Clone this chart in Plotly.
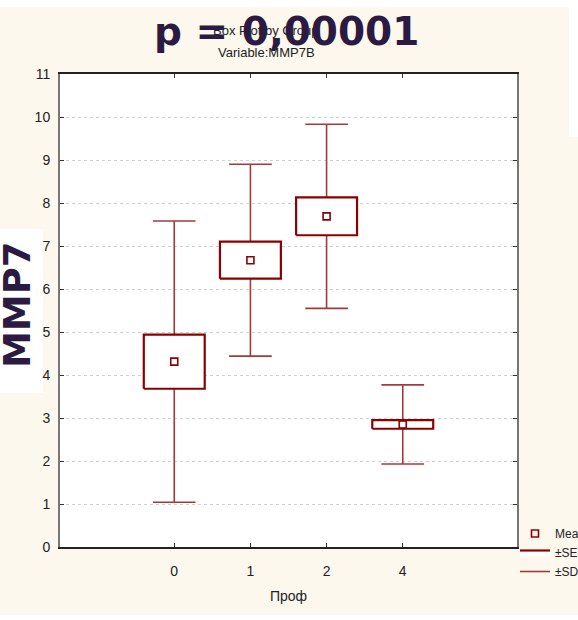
import plotly.graph_objects as go

# ---- data ----
groups = ["0", "1", "2", "4"]
means = [4.31, 6.67, 7.69, 2.85]
se = [0.63, 0.43, 0.44, 0.10]
sd = [3.27, 2.23, 2.14, 0.92]
y_ticks = list(range(0, 12))

BOX_HALF = 0.4
CAP_HALF = 0.28
DARK = "#8b0000"
WHISK = "#a33a3a"
CREAM = "#fcf8ee"
PURPLE = "#2b1a42"
FONT = "Liberation Sans Narrow, Arial Narrow, Liberation Sans, Arial"

xs_idx = list(range(len(groups)))

# whiskers (±SD)
wx, wy = [], []
for i, m, d in zip(xs_idx, means, sd):
    wx += [i, i, None, i - CAP_HALF, i + CAP_HALF, None, i - CAP_HALF, i + CAP_HALF, None]
    wy += [m - d, m + d, None, m + d, m + d, None, m - d, m - d, None]

# boxes (±SE)
bx, by = [], []
for i, m, s in zip(xs_idx, means, se):
    bx += [i - BOX_HALF, i + BOX_HALF, i + BOX_HALF, i - BOX_HALF, i - BOX_HALF, None]
    by += [m - s, m - s, m + s, m + s, m - s, None]

fig = go.Figure()
fig.add_trace(go.Scatter(x=wx, y=wy, mode="lines", name="±SD",
                         line=dict(color=WHISK, width=1.6), legendrank=3,
                         hoverinfo="skip"))
fig.add_trace(go.Scatter(x=bx, y=by, mode="lines", name="±SE", fill="toself",
                         fillcolor="white", line=dict(color=DARK, width=2.2),
                         legendrank=2, hoverinfo="skip"))
fig.add_trace(go.Scatter(x=xs_idx, y=means, mode="markers", name="Mean",
                         marker=dict(symbol="square-open", size=7, color=DARK,
                                     line=dict(width=1.6)),
                         legendrank=1))

L, R, T, B = 60, 61, 74, 73
W, H = 578, 620
pw, ph = W - L - R, H - T - B

def px(xp):
    return (xp - L) / pw

def py(yp):
    return (H - B - yp) / ph

shapes = [
    dict(type="rect", xref="paper", yref="paper", x0=px(0), x1=px(W), y0=py(7), y1=py(0),
         fillcolor="white", line=dict(width=0), layer="below"),
    dict(type="rect", xref="paper", yref="paper", x0=px(569), x1=px(W), y0=py(137), y1=py(0),
         fillcolor="white", line=dict(width=0), layer="below"),
    dict(type="rect", xref="paper", yref="paper", x0=px(0), x1=px(W), y0=py(H), y1=py(615),
         fillcolor="white", line=dict(width=0), layer="below"),
    dict(type="rect", xref="paper", yref="paper", x0=px(0), x1=px(43), y0=py(393), y1=py(229),
         fillcolor="white", line=dict(width=0), layer="below"),
]

annotations = [
    dict(text="Box Plot by Group", xref="paper", yref="paper", x=px(266), y=py(30),
         xanchor="center", yanchor="middle",
         showarrow=False, font=dict(family=FONT, size=13, color="#222")),
    dict(text="Variable:MMP7B", xref="paper", yref="paper", x=px(266), y=py(53),
         xanchor="center", yanchor="middle",
         showarrow=False, font=dict(family=FONT, size=13, color="#222")),
    dict(text="<b>p = 0,00001</b>", xref="paper", yref="paper", x=px(286), y=py(31),
         xanchor="center", yanchor="middle",
         showarrow=False, font=dict(family="DejaVu Sans", size=39, color=PURPLE)),
    dict(text="<b>MMP7</b>", xref="paper", yref="paper", x=px(17), y=py(305),
         xanchor="center", yanchor="middle",
         showarrow=False, textangle=-90,
         font=dict(family="DejaVu Sans", size=37, color=PURPLE)),
]

fig.update_layout(
    width=W, height=H,
    margin=dict(l=L, r=R, t=T, b=B, pad=0, autoexpand=False),
    paper_bgcolor=CREAM, plot_bgcolor="white",
    shapes=shapes, annotations=annotations,
    showlegend=True,
    legend=dict(x=px(515), y=py(519), xanchor="left", yanchor="top",
                bgcolor="rgba(0,0,0,0)", font=dict(family=FONT, size=12, color="#222"),
                itemwidth=30, tracegroupgap=0, traceorder="normal"),
    xaxis=dict(range=[-1.5, 4.5], tickmode="array", tickvals=xs_idx, ticktext=groups,
               showgrid=False, zeroline=False, showline=True, linecolor="#222",
               linewidth=1.5, mirror="ticks", ticks="inside", ticklen=4,
               tickcolor="#333", tickfont=dict(family=FONT, size=14, color="#222"),
               ticklabelstandoff=10,
               title=dict(text="Проф", font=dict(family=FONT, size=14, color="#222"),
                          standoff=14)),
    yaxis=dict(range=[0, 11], tickmode="array", tickvals=y_ticks,
               showgrid=True, gridcolor="#cfcfcf", griddash="dot", gridwidth=1,
               zeroline=False, showline=True, linecolor="#777", linewidth=2,
               mirror="ticks", ticks="inside", ticklen=4, tickcolor="#333",
               tickfont=dict(family=FONT, size=14, color="#222"),
               ticklabelstandoff=5),
)

fig.write_html("out.html")
